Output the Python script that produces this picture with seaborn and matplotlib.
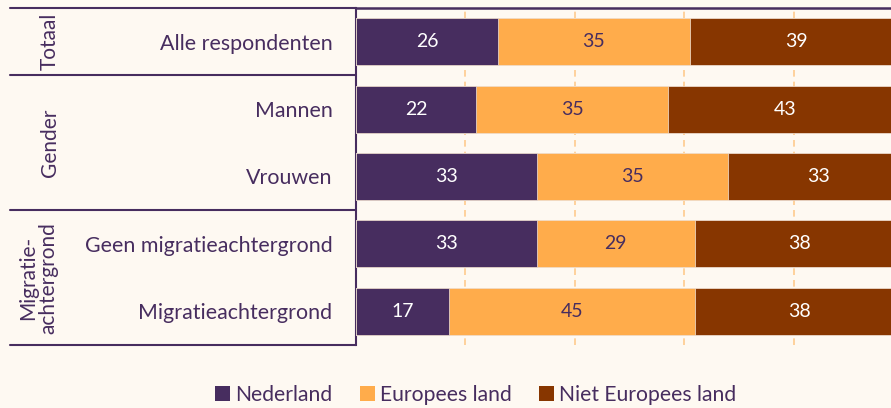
import matplotlib
matplotlib.use('Agg')
import matplotlib.pyplot as plt
import matplotlib.transforms as mtransforms
from matplotlib.patches import Patch
import numpy as np
import pandas as pd
import seaborn as sns

# data
rows = ['Alle respondenten', 'Mannen', 'Vrouwen',
        'Geen migratieachtergrond', 'Migratieachtergrond']
groups = ['Totaal', 'Gender', 'Migratie-\nachtergrond']
group_rows = [(0, 0), (1, 2), (3, 4)]
series = ['Nederland', 'Europees land', 'Niet Europees land']
nederland = [26, 22, 33, 33, 17]
europees = [35, 35, 35, 29, 45]
niet_europees = [39, 43, 33, 38, 38]

colors = ['#472d5f', '#ffac4b', '#873600']
label_colors = ['white', '#472d5f', 'white']
bg = '#fef9f2'
purple = '#472d5f'

sns.set_theme(style='white')
plt.rcParams['font.family'] = ['Lato', 'DejaVu Sans']

values = np.array([nederland, europees, niet_europees])
cum = values.cumsum(axis=0)

df = pd.DataFrame({'rij': rows})
for i, s in enumerate(series):
    df[s] = cum[i]

fig = plt.figure(figsize=(8.91, 4.08), dpi=100, facecolor=bg)
ax = fig.add_axes([356 / 891, 1 - 345 / 408, 535 / 891, 337 / 408])
ax.set_facecolor(bg)

# gestapelde balken: cumulatief, achterste eerst
for i in reversed(range(len(series))):
    sns.barplot(data=df, x=series[i], y='rij', orient='h', color=colors[i],
                width=0.7, edgecolor='#f3e6da', linewidth=0.5,
                saturation=1, ax=ax, zorder=3)

# waarden in de balken
for i in range(len(series)):
    for j in range(len(rows)):
        mid = cum[i][j] - values[i][j] / 2
        ax.text(mid, j, str(values[i][j]), ha='center', va='center',
                fontsize=14, color=label_colors[i], zorder=5)

ax.set_xlim(0, 97.8)
ax.set_ylim(4.5, -0.5)
ax.set_xlabel('')
ax.set_ylabel('')
ax.set_xticks([20, 40, 60, 80])
ax.set_xticklabels([])
ax.tick_params(axis='x', length=0)
ax.tick_params(axis='y', length=0, pad=17, labelsize=15.4, labelcolor=purple)
ax.grid(axis='x', linestyle=(0, (4, 3)), color='#ffcb8e', linewidth=1.2, zorder=0)
ax.grid(axis='y', visible=False)
for side in ['right', 'bottom']:
    ax.spines[side].set_visible(False)
ax.spines['top'].set_color(purple)
ax.spines['top'].set_linewidth(1.8)
ax.spines['left'].set_color(purple)
ax.spines['left'].set_linewidth(1.5)

# groepslijnen en groepsnamen links
trans = mtransforms.blended_transform_factory(ax.transAxes, ax.transData)
x0 = (10 - 356) / 535
for y in [-0.5, 0.5, 2.5, 4.5]:
    ax.plot([x0, 0], [y, y], transform=trans, color=purple, lw=1.5, clip_on=False)
for g, (a, b) in zip(groups, group_rows):
    xg = (50 - 356) / 535 if '\n' not in g else (38 - 356) / 535
    ax.text(xg, (a + b) / 2, g, transform=trans, rotation=90, ha='center',
            va='center', fontsize=15, color=purple, multialignment='center',
            linespacing=1.0)

handles = [Patch(facecolor=c, edgecolor='none') for c in colors]
leg = fig.legend(handles, series, loc='center', bbox_to_anchor=(0.534, 1 - 395 / 408),
                 ncol=3, frameon=False, fontsize=15.2, handlelength=0.7,
                 handleheight=0.7, handletextpad=0.25, columnspacing=1.3)
for t in leg.get_texts():
    t.set_color(purple)

fig.savefig('out.png', dpi=100, facecolor=bg)
